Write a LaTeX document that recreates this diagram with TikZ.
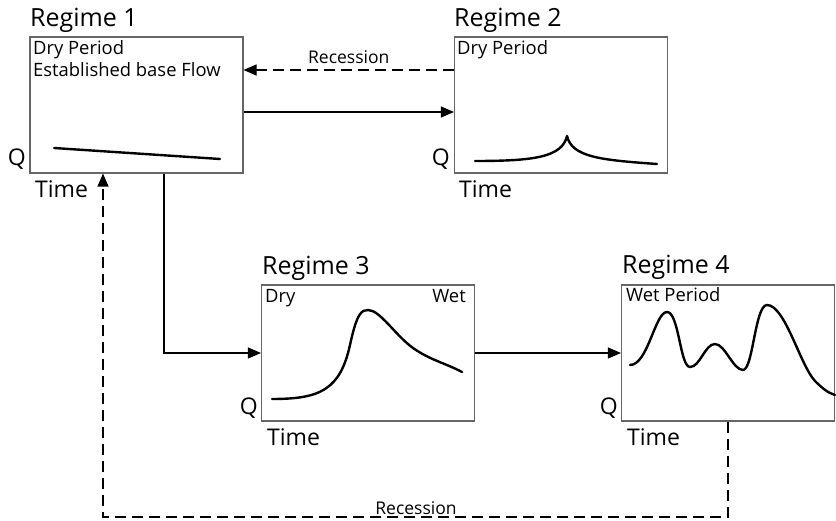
\documentclass[tikz,border=0pt]{standalone}
\usepackage{fontspec}
\setmainfont{Open Sans}
\usetikzlibrary{arrows.meta,calc}
\begin{document}
\begin{tikzpicture}[x=1pt,y=-1pt,
  regbox/.style={draw=black!60,line width=1.1pt,minimum width=213pt,minimum height=136pt,inner sep=0pt},
  title/.style={font=\fontsize{25}{30}\selectfont,anchor=base west,inner sep=0pt},
  axis/.style={font=\fontsize{23}{28}\selectfont,inner sep=0pt},
  intext/.style={font=\fontsize{18.4}{22}\selectfont,anchor=base west,inner sep=0pt},
  lbl/.style={font=\fontsize{17.5}{21}\selectfont,inner sep=0pt},
  conn/.style={line width=1.1pt,-{Triangle[length=13pt,width=11pt]}},
  dconn/.style={line width=1.1pt,dash pattern=on 11pt off 6pt,-{Triangle[length=13pt,width=11pt]}},
  flow/.style={line width=2.4pt,line cap=round,line join=round}]
\useasboundingbox (0,0) rectangle (836,521);
% boxes
\node[regbox] (r1) at (136.5,105) {};
\node[regbox] (r2) at (561,105) {};
\node[regbox] (r3) at (368,353) {};
\node[regbox] (r4) at (728,353) {};
% titles
\node[title] (t1) at (30,27) {Regime 1};
\node[title] (t2) at (454,27) {Regime 2};
\node[title] (t3) at (262,275) {Regime 3};
\node[title] (t4) at (622,274) {Regime 4};
% inner texts
\node[intext] (d1) at (33,55) {Dry Period};
\node[intext] (e1) at (33,77) {Established base Flow};
\node[intext] (d2) at (457,55) {Dry Period};
\node[intext] (d3) at (265,303) {Dry};
\node[intext,anchor=base east] (w3) at (466,303) {Wet};
\node[intext] (w4) at (626,302) {Wet Period};
% axis labels
\node[axis,anchor=base east] (q1) at (26,166) {Q};
\node[axis,anchor=base east] (q2) at (450,166) {Q};
\node[axis,anchor=base east] (q3) at (258,414) {Q};
\node[axis,anchor=base east] (q4) at (618,414) {Q};
\node[axis,anchor=base west] (ti1) at (35,198) {Time};
\node[axis,anchor=base west] (ti2) at (459,198) {Time};
\node[axis,anchor=base west] (ti3) at (267,446) {Time};
\node[axis,anchor=base west] (ti4) at (627,446) {Time};
% curves
\draw[flow] (54,148) -- (220,159);
\draw[flow] (475,161) .. controls (535,161) and (562,157) .. (567,136)
  .. controls (572,157) and (600,160) .. (657,164);
\draw[flow] (272,399) .. controls (320,399) and (340,390) .. (350,345)
  .. controls (357,312) and (362,310) .. (368,310)
  .. controls (380,310) and (395,335) .. (413,348)
  .. controls (430,360) and (445,363) .. (462,372);
\draw[flow] (630,365) .. controls (648,365) and (655,312) .. (667,312)
  .. controls (679,312) and (680,367) .. (690,367)
  .. controls (700,367) and (705,344) .. (715,344)
  .. controls (725,344) and (733,370) .. (743,370)
  .. controls (753,370) and (755,305) .. (767,305)
  .. controls (785,305) and (800,365) .. (815,381)
  .. controls (822,388) and (828,393) .. (835,395);
% connectors
\draw[dconn] ([yshift=35pt]r2.west) -- ([yshift=35pt]r1.east)
  node[lbl,midway,above=6pt] (rec1) {Recession};
\draw[conn] ([yshift=-7pt]r1.east) -- ([yshift=-7pt]r2.west);
\draw[conn] ([xshift=27.5pt]r1.south) |- (r3.west);
\draw[conn] (r3.east) -- (r4.west |- r3.east);
\coordinate (lowR) at (728,517);
\draw[dconn] (r4.south) -- (lowR) -| ([xshift=-33.5pt]r1.south);
\node[lbl,anchor=base] (rec2) at (416,514) {Recession};
\end{tikzpicture}
\end{document}
